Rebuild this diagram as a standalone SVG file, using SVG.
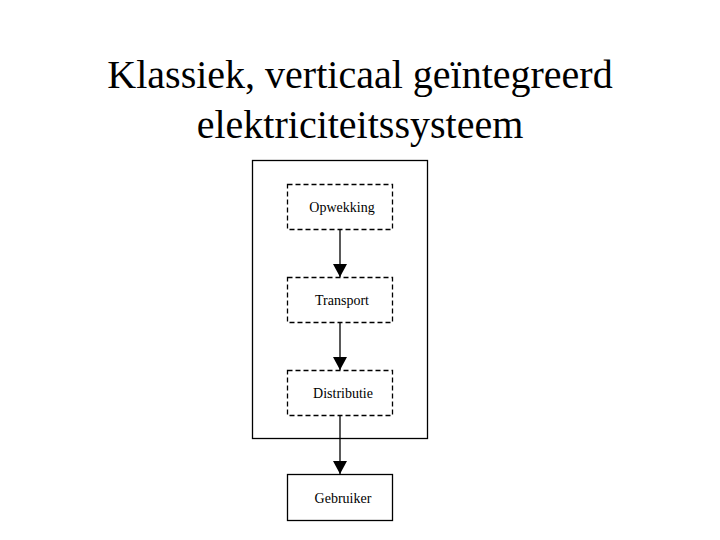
<svg xmlns="http://www.w3.org/2000/svg" width="720" height="540" viewBox="0 0 720 540">
<style>
.t{font-family:"Liberation Serif",serif;fill:#000}
.title{font-size:40px}
.lbl{font-size:14px}
.dash{fill:#fff;stroke:#000;stroke-width:1.3;stroke-dasharray:5,3}
.solid{fill:#fff;stroke:#000;stroke-width:1.3}
.c{stroke:#000;stroke-width:1.3;fill:none}
</style>
<defs><marker id="ah" markerWidth="14" markerHeight="14" refX="13" refY="7" orient="auto" markerUnits="userSpaceOnUse"><path d="M0,0 L13,7 L0,14 Z" fill="#000"/></marker></defs>
<rect width="720" height="540" fill="#fff"/>
<g id="title">
<text class="t title" x="360" y="88" text-anchor="middle">Klassiek, verticaal geïntegreerd</text>
<text class="t title" x="360" y="138" text-anchor="middle">elektriciteitssysteem</text>
</g>
<g id="system"><rect class="solid" x="252.5" y="160.5" width="175" height="278"/></g>
<g id="connectors">
<line class="c" x1="340" y1="229" x2="340" y2="277" marker-end="url(#ah)"/>
<line class="c" x1="340" y1="323" x2="340" y2="370" marker-end="url(#ah)"/>
<line class="c" x1="340" y1="416" x2="340" y2="474" marker-end="url(#ah)"/>
</g>
<g id="opwekking"><rect class="dash" x="287.5" y="184.5" width="105" height="45"/><text class="t lbl" x="342" y="212" text-anchor="middle">Opwekking</text></g>
<g id="transport"><rect class="dash" x="287.5" y="277.5" width="105" height="45"/><text class="t lbl" x="342" y="305" text-anchor="middle">Transport</text></g>
<g id="distributie"><rect class="dash" x="287.5" y="370.5" width="105" height="45"/><text class="t lbl" x="343" y="398" text-anchor="middle">Distributie</text></g>
<g id="gebruiker"><rect class="solid" x="287.5" y="474.5" width="105" height="46"/><text class="t lbl" x="343" y="503" text-anchor="middle">Gebruiker</text></g>
</svg>
